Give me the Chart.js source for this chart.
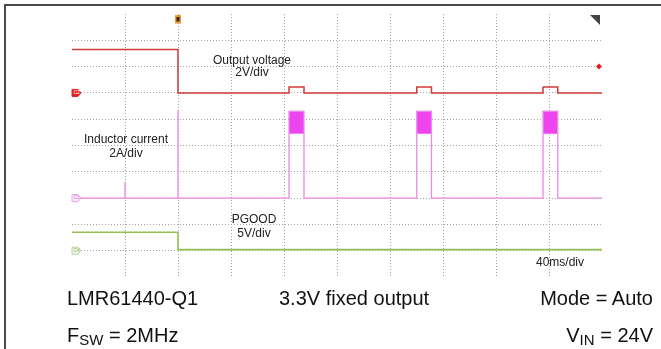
<!DOCTYPE html>
<html lang="en">
<head>
  <meta charset="UTF-8">
  <title>LMR61440-Q1 start-up, Mode = Auto</title>
  <script src="https://cdn.jsdelivr.net/npm/chart.js"></script>
  <style>
    body { margin: 0; background: #fff; font-family: "Liberation Sans", Arial, sans-serif; }
    #wrap { position: relative; width: 661px; height: 349px; overflow: hidden; }
    #frameTop { position: absolute; left: 4px; top: 4px; width: 657px; height: 0; border-top: 2px solid #4a4a4a; }
    #frameLeft { position: absolute; left: 4px; top: 4px; width: 0; height: 345px; border-left: 2px solid #4a4a4a; }
    canvas { position: absolute; left: 0; top: 0; }
    .lbl { position: absolute; font-size: 12px; line-height: 12px; color: #222; white-space: nowrap; }
    .c { transform: translateX(-50%); }
    .big { position: absolute; font-size: 20px; line-height: 20px; color: #111; white-space: nowrap; }
    .big sub { font-size: 15px; vertical-align: -3px; line-height: 0; }
  </style>
</head>
<body>
<div id="wrap">
  <canvas id="scope" width="661" height="349"></canvas>
  <div id="frameTop"></div>
  <div id="frameLeft"></div>

  <!-- channel labels -->
  <div class="lbl c" style="left:252px; top:54px;">Output voltage</div>
  <div class="lbl c" style="left:252px; top:66px;">2V/div</div>
  <div class="lbl c" style="left:126px; top:133px;">Inductor current</div>
  <div class="lbl c" style="left:126px; top:147px;">2A/div</div>
  <div class="lbl c" style="left:254px; top:213px;">PGOOD</div>
  <div class="lbl c" style="left:254px; top:227px;">5V/div</div>
  <div class="lbl" style="left:536px; top:256px;">40ms/div</div>

  <!-- test conditions -->
  <div class="big" style="left:67px; top:288px;">LMR61440-Q1</div>
  <div class="big" style="left:279px; top:288px;">3.3V fixed output</div>
  <div class="big" style="right:8px; top:288px;">Mode = Auto</div>
  <div class="big" style="left:67px; top:325px;">F<sub>SW</sub> = 2MHz</div>
  <div class="big" style="right:8px; top:325px;">V<sub>IN</sub> = 24V</div>
</div>

<script>
  // scope setup: 40 ms/div, 10 x 10 divisions, trigger at t = 0
  const timeMin = -80;
  const timeMax = 320;
  const timePerDiv = 40;

  // Output voltage (CH2, 2 V/div, ground 7 div from bottom)
  const voutTime  = [-80, 0, 0, 83.8, 83.8, 95.1, 95.1, 180.2, 180.2, 191.3, 191.3, 275.5, 275.5, 286.6, 286.6, 320];
  const voutVolts = [3.3, 3.3, 0, 0, 0.45, 0.45, 0, 0, 0.45, 0.45, 0, 0, 0.45, 0.45, 0, 0];
  const voutPerDiv = 2, voutGroundDiv = 7;

  // Inductor current (CH1, 2 A/div, ground 3 div from bottom)
  const ilTime = [-80, -40, -40, -40, 0, 0, 0, 83.8, 83.8, 95.1, 95.1, 180.2, 180.2, 191.3, 191.3, 275.5, 275.5, 286.6, 286.6, 320];
  const ilAmps = [0, 0, 1.2, 0, 0, 6.7, 0, 0, 6.6, 6.6, 0, 0, 6.6, 6.6, 0, 0, 6.6, 6.6, 0, 0];
  const burstStart = [83.8, 180.2, 275.5];
  const burstEnd   = [95.1, 191.3, 286.6];
  const burstPeak = 6.6;
  const burstValley = 4.9;
  const ilPerDiv = 2, ilGroundDiv = 3;

  // PGOOD (CH4, 5 V/div, ground 1 div from bottom)
  const pgTime  = [-80, 0, 0, 320];
  const pgVolts = [3.5, 3.5, 0.2, 0.2];
  const pgPerDiv = 5, pgGroundDiv = 1;

  const trigLevel = 2; // V on CH2

  const pts = (xs, ys) => xs.map((x, i) => ({ x: x, y: ys[i] }));

  const datasets = [
    { data: pts(pgTime, pgVolts), yAxisID: 'yPg', borderColor: '#93bf55', borderWidth: 1.6 },
    { data: pts(ilTime, ilAmps), yAxisID: 'yIl', borderColor: '#e88ae8', borderWidth: 1.3 },
    { data: pts(voutTime, voutVolts), yAxisID: 'yVout', borderColor: '#d23a3a', borderWidth: 1.5 }
  ];
  burstStart.forEach((s, i) => {
    datasets.push({
      data: [{ x: s, y: burstPeak }, { x: burstEnd[i], y: burstPeak }],
      yAxisID: 'yIl', borderColor: '#ee55ee', borderWidth: 1,
      backgroundColor: '#ee44ee', fill: { value: burstValley }
    });
  });

  const hideEdge = (ctx) => {
    const s = ctx.scale;
    return (ctx.tick.value === s.min || ctx.tick.value === s.max) ? 'rgba(0,0,0,0)' : '#a4a4a4';
  };
  const chAxis = (perDiv, groundDiv) => ({
    display: false, min: -groundDiv * perDiv, max: (10 - groundDiv) * perDiv
  });

  const markers = {
    id: 'markers',
    afterDraw(chart) {
      const c = chart.ctx, a = chart.chartArea, sc = chart.scales;
      const tag = (y, fill, stroke, txt, txtColor) => {
        const x = a.left;
        c.beginPath();
        c.moveTo(x, y - 3.5); c.lineTo(x + 6, y - 3.5); c.lineTo(x + 9, y);
        c.lineTo(x + 6, y + 3.5); c.lineTo(x, y + 3.5); c.closePath();
        c.fillStyle = fill; c.fill();
        c.strokeStyle = stroke; c.lineWidth = 1; c.stroke();
        c.fillStyle = txtColor; c.font = '5px sans-serif';
        c.textBaseline = 'middle'; c.fillText(txt, x + 1.5, y);
      };
      tag(sc.yVout.getPixelForValue(0), '#e02424', '#e02424', 'C2', '#fff');
      tag(sc.yIl.getPixelForValue(0), '#fbe8fb', '#e6a6e6', 'C1', '#c080c0');
      tag(sc.yPg.getPixelForValue(0), '#eef6e4', '#b9d79c', 'C4', '#90a878');

      // trigger position marker
      const tx = sc.x.getPixelForValue(0);
      c.fillStyle = '#e89a2c';
      c.fillRect(tx - 3, a.top + 1, 6, 8.5);
      c.fillStyle = '#3a2a10';
      c.fillRect(tx - 1.5, a.top + 3, 3, 4.5);

      // trigger level marker (right edge)
      const ty = sc.yVout.getPixelForValue(trigLevel);
      c.fillStyle = '#f01818';
      c.beginPath();
      c.moveTo(a.right - 6, ty); c.lineTo(a.right - 3, ty - 3);
      c.lineTo(a.right, ty); c.lineTo(a.right - 3, ty + 3); c.closePath(); c.fill();

      // corner triangle
      c.fillStyle = '#444';
      c.beginPath();
      c.moveTo(a.right - 12, a.top + 1); c.lineTo(a.right - 2, a.top + 1);
      c.lineTo(a.right - 2, a.top + 11); c.closePath(); c.fill();
    }
  };

  new Chart(document.getElementById('scope'), {
    type: 'scatter',
    data: { datasets: datasets },
    options: {
      responsive: false,
      animation: false,
      devicePixelRatio: 1,
      layout: { padding: { left: 72, right: 59, top: 14, bottom: 72 } },
      elements: { point: { radius: 0 }, line: { tension: 0 } },
      datasets: { scatter: { showLine: true } },
      plugins: { legend: { display: false }, tooltip: { enabled: false } },
      scales: {
        x: {
          type: 'linear', min: timeMin, max: timeMax,
          ticks: { display: false, stepSize: timePerDiv },
          grid: { color: hideEdge, drawTicks: false, lineWidth: 1 },
          border: { display: false, dash: [1, 2] }
        },
        yDiv: {
          position: 'left', min: 0, max: 10,
          ticks: { display: false, stepSize: 1 },
          grid: { color: hideEdge, drawTicks: false, lineWidth: 1 },
          border: { display: false, dash: [1, 2] }
        },
        yVout: chAxis(voutPerDiv, voutGroundDiv),
        yIl: chAxis(ilPerDiv, ilGroundDiv),
        yPg: chAxis(pgPerDiv, pgGroundDiv)
      }
    },
    plugins: [markers]
  });
</script>
</body>
</html>
